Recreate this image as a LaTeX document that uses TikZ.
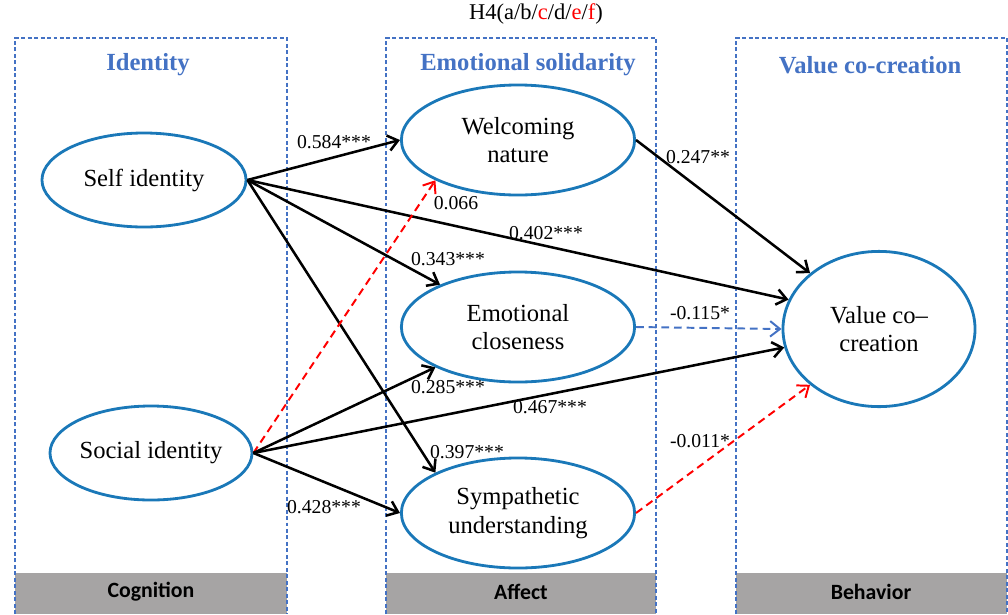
\documentclass[tikz,border=0pt]{standalone}
\usepackage{fontspec}
\setmainfont{Liberation Serif}
\newfontfamily\bandfont{Carlito}
\usetikzlibrary{arrows.meta,shapes.geometric}
\definecolor{sdtblue}{HTML}{4472C4}
\definecolor{sdtring}{HTML}{1A78B8}
\definecolor{sdtgray}{HTML}{A6A4A4}
\definecolor{sdtred}{HTML}{FF0000}
\tikzset{
  construct/.style={ellipse,draw=sdtring,line width=2pt,inner sep=0pt,align=center,font=\fontsize{17.5}{20.5}\selectfont},
  panel/.style={draw=sdtblue,line width=0.9pt,dash pattern=on 2.8pt off 1.8pt},
  band/.style={fill=sdtgray,draw=none},
  ptitle/.style={text=sdtblue,font=\fontsize{17.5}{20}\selectfont\bfseries},
  bandlbl/.style={font=\fontsize{15.5}{18}\selectfont\bandfont\bfseries},
  coef/.style={font=\fontsize{14}{16}\selectfont,inner sep=1pt},
  sig/.style={-{Straight Barb[length=7pt,width=11pt]},line width=1.8pt,draw=black},
  nsred/.style={sig,draw=sdtred,line width=1.4pt,dash pattern=on 5.5pt off 3.5pt},
  nsblue/.style={sig,draw=sdtblue,line width=1.4pt,dash pattern=on 5.5pt off 3.5pt},
}

\begin{document}
\begin{tikzpicture}[x=0.025cm,y=-0.025cm]
  \useasboundingbox (0,0) rectangle (1008,614);
  % panels
  \fill[band] (15,573) rectangle (287,614);
  \fill[band] (386,573) rectangle (656,614);
  \fill[band] (736,573) rectangle (1007,614);
  \draw[panel] (15,614) -- (15,38) -- (287,38) -- (287,614);
  \draw[panel] (386,614) -- (386,38) -- (656,38) -- (656,614);
  \draw[panel] (736,614) -- (736,38) -- (1007,38) -- (1007,614);
  \node[ptitle] (tcog) at (148,65) {Identity};
  \node[ptitle] (taff) at (528,65) {Emotional solidarity};
  \node[ptitle] (tbeh) at (870,65) {Value co-creation};
  \node[bandlbl] (bcog) at (151,592) {Cognition};
  \node[bandlbl] (baff) at (521,592) {Affect};
  \node[bandlbl] (bbeh) at (871,592) {Behavior};
  \node[font=\fontsize{16}{18}\selectfont] (hyp) at (536,14) {H4(a/b/\textcolor{sdtred}{c}/d/\textcolor{sdtred}{e}/\textcolor{sdtred}{f})};
  % constructs
  \node[construct,minimum width=5.1cm,minimum height=2.35cm] (self) at (144,180) {Self identity};
  \node[construct,minimum width=4.8cm,minimum height=2.35cm] (soc) at (151,453) {Social identity};
  \node[construct,minimum width=5.83cm,minimum height=2.75cm] (welc) at (518,140) {Welcoming\\nature};
  \node[construct,minimum width=5.83cm,minimum height=2.75cm] (emo) at (518,327) {Emotional\\closeness};
  \node[construct,minimum width=5.83cm,minimum height=2.75cm] (symp) at (518,513) {Sympathetic\\understanding};
  \node[construct,minimum width=4.8cm,minimum height=3.88cm] (val) at (879,329) {Value co--\\creation};
  % paths
  \draw[sig] (self.east) -- (welc.west);
  \draw[sig] (self.east) -- (emo);
  \draw[sig] (self.east) -- (val.162);
  \draw[sig] (self.east) -- (symp.154);
  \draw[nsred] (soc.east) -- (welc.206);
  \draw[sig] (soc.east) -- (emo.206);
  \draw[sig] (soc.east) -- (val.191);
  \draw[sig] (soc.east) -- (symp.west);
  \draw[sig] (welc.east) -- (val.141);
  \draw[nsblue] (emo.east) -- (val.west);
  \draw[nsred] (symp.east) -- (val.219);
  % coefficients
  \node[coef] (c1) at (334,142) {0.584***};
  \node[coef] (c2) at (456,203) {0.066};
  \node[coef] (c3) at (546,233) {0.402***};
  \node[coef] (c4) at (448,259) {0.343***};
  \node[coef] (c5) at (698,157) {0.247**};
  \node[coef] (c6) at (700,313) {-0.115*};
  \node[coef] (c7) at (448,387) {0.285***};
  \node[coef] (c8) at (550,407) {0.467***};
  \node[coef] (c9) at (467,452) {0.397***};
  \node[coef] (c10) at (324,507) {0.428***};
  \node[coef] (c11) at (700,441) {-0.011*};
\end{tikzpicture}
\end{document}
